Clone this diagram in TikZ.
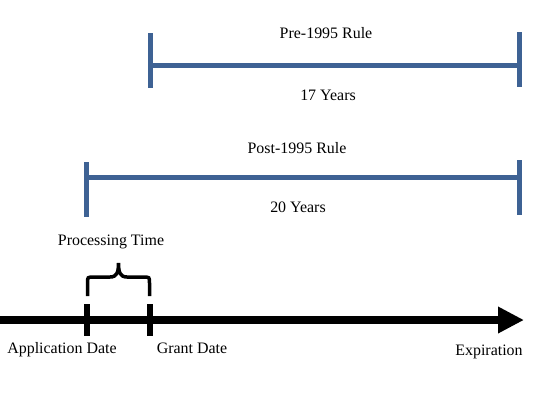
\documentclass[tikz,border=0pt]{standalone}
\usepackage{fontspec}
\setmainfont{Liberation Serif}
\usetikzlibrary{arrows.meta}
\definecolor{barblue}{RGB}{62,98,148}
\begin{document}
\begin{tikzpicture}[x=1bp,y=-1bp,
  bar/.style={barblue,line width=5bp},
  lbl/.style={font=\fontsize{16}{19}\selectfont,anchor=base,inner sep=0pt},
  tickmark/.style={black,line width=6bp},
  brace/.style={black,line width=3.5bp},
  timeline/.style={black,line width=8bp,-{Triangle[length=26bp,width=25bp]}}]
\useasboundingbox[fill=white] (0,0) rectangle (533,402);

% Pre-1995 bar
\coordinate (preL) at (150.5,65);
\coordinate (preR) at (519.5,65);
\coordinate (preLt) at (150.5,33);
\coordinate (preLb) at (150.5,88);
\coordinate (preRt) at (519.5,32);
\coordinate (preRb) at (519.5,87);
\draw[bar] (preL) -- (preR);
\draw[bar] (preLt) -- (preLb);
\draw[bar] (preRt) -- (preRb);
\node[lbl] (prelabel) at (326,38) {Pre-1995 Rule};
\node[lbl] (preyears) at (328,100) {17 Years};

% Post-1995 bar
\coordinate (postL) at (86.5,177);
\coordinate (postR) at (519.5,177);
\coordinate (postLt) at (86.5,162);
\coordinate (postLb) at (86.5,217);
\coordinate (postRt) at (519.5,160);
\coordinate (postRb) at (519.5,215);
\draw[bar] (postL) -- (postR);
\draw[bar] (postLt) -- (postLb);
\draw[bar] (postRt) -- (postRb);
\node[lbl] (postlabel) at (297,153) {Post-1995 Rule};
\node[lbl] (postyears) at (298,212) {20 Years};

% Timeline
\coordinate (tlS) at (0,320);
\coordinate (tlE) at (524,320);
\draw[timeline] (tlS) -- (tlE);
\coordinate (appT) at (86.5,304);
\coordinate (appB) at (86.5,336);
\coordinate (grT) at (150,304);
\coordinate (grB) at (150,336);
\draw[tickmark] (appT) -- (appB);
\draw[tickmark] (grT) -- (grB);

% Brace
\coordinate (brL) at (87.5,296);
\coordinate (brR) at (149.5,296);
\coordinate (brTip) at (118.5,263);
\draw[brace] (brL) -- (87.5,283) .. controls (87.5,277) .. (94,277) -- (110,277)
  .. controls (117,277) and (118.5,272) .. (brTip)
  .. controls (118.5,272) and (120,277) .. (127,277) -- (143,277)
  .. controls (149.5,277) .. (149.5,283) -- (brR);
\node[lbl] (proc) at (111,245) {Processing Time};

% Labels
\node[lbl] (appdate) at (62,353) {Application Date};
\node[lbl] (grantdate) at (192,353) {Grant Date};
\node[lbl] (expir) at (489,355) {Expiration};
\end{tikzpicture}
\end{document}
